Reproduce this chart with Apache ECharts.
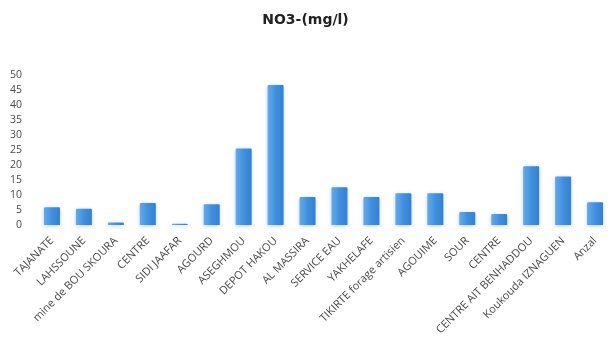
<!DOCTYPE html>
<html>
<head>
<meta charset="utf-8">
<script src="https://cdn.jsdelivr.net/npm/echarts@6/dist/echarts.min.js"></script>
<style>
  html, body { margin: 0; padding: 0; background: #fff; }
  #chart { width: 611px; height: 345px; }
</style>
</head>
<body>
<div id="chart"></div>
<script>
// Sampling stations and nitrate concentration (mg/l)
const stations = [
  'TAJANATE', 'LAHSSOUNE', 'mine de BOU SKOURA', 'CENTRE', 'SIDI JAAFAR',
  'AGOURD', 'ASEGHMOU', 'DEPOT HAKOU', 'AL MASSIRA', 'SERVICE EAU',
  'YAKHELAFE', 'TIKIRTE forage artisien', 'AGOUIME', 'SOUR', 'CENTRE',
  'CENTRE AIT BENHADDOU', 'Koukouda IZNAGUEN', 'Anzal'
];
const no3 = [5.9, 5.4, 0.8, 7.3, 0.4, 6.9, 25.5, 46.7, 9.3, 12.6,
             9.3, 10.6, 10.6, 4.3, 3.7, 19.6, 16.2, 7.6];
const yTicks = { min: 0, max: 50, step: 5 };

const chart = echarts.init(document.getElementById('chart'));
chart.setOption({
  animation: false,
  title: {
    text: 'NO3-(mg/l)',
    left: 'center',
    top: 8,
    textStyle: {
      fontFamily: 'DejaVu Sans',
      fontSize: 14,
      fontWeight: 'bold',
      color: '#222'
    }
  },
  grid: { left: 36, top: 75, width: 581, height: 150 },
  xAxis: {
    type: 'category',
    data: stations,
    axisLine: { show: false },
    axisTick: { show: false },
    axisLabel: {
      interval: 0,
      rotate: 45,
      margin: 14,
      fontFamily: 'Open Sans',
      fontSize: 11,
      color: '#4a4a4a'
    }
  },
  yAxis: {
    type: 'value',
    min: yTicks.min,
    max: yTicks.max,
    interval: yTicks.step,
    axisLine: { show: false },
    axisTick: { show: false },
    splitLine: { show: false },
    axisLabel: {
      margin: 14,
      fontFamily: 'Open Sans',
      fontSize: 10.5,
      color: '#4a4a4a'
    }
  },
  series: [{
    type: 'bar',
    data: no3,
    barWidth: 16,
    itemStyle: {
      color: new echarts.graphic.LinearGradient(0, 0, 1, 0, [
        { offset: 0, color: '#64aaea' },
        { offset: 0.5, color: '#4190de' },
        { offset: 1, color: '#3480d0' }
      ]),
      borderRadius: [1, 1, 0, 0],
      shadowBlur: 4,
      shadowColor: 'rgba(60,120,200,0.35)',
      shadowOffsetY: 1
    }
  }]
});
</script>
</body>
</html>
